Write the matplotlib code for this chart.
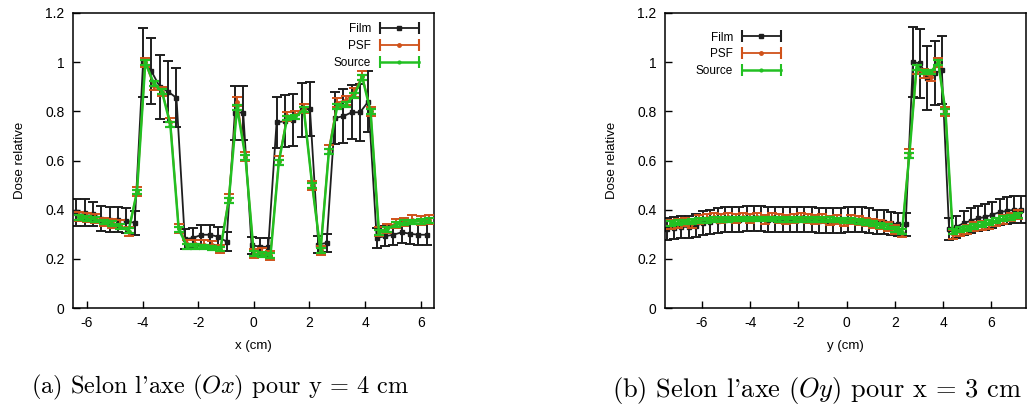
import matplotlib
matplotlib.use("Agg")
import matplotlib.pyplot as plt
from matplotlib.lines import Line2D
from matplotlib.legend_handler import HandlerBase

plt.rcParams["font.family"] = ["Liberation Sans", "DejaVu Sans"]
plt.rcParams["axes.unicode_minus"] = False
plt.rcParams["mathtext.fontset"] = "cm"

# ---- (a) profile along Ox, y = 4 cm ----
x_film_a = [-6.38, -6.08, -5.78, -5.48, -5.18, -4.88, -4.58, -4.28, -3.98, -3.68,
            -3.38, -3.08, -2.78, -2.48, -2.18, -1.88, -1.58, -1.28, -0.98, -0.68,
            -0.38, -0.08, 0.22, 0.52, 0.82, 1.12, 1.42, 1.72, 2.02, 2.32,
            2.62, 2.92, 3.22, 3.52, 3.82, 4.12, 4.42, 4.72, 5.02, 5.32,
            5.62, 5.92, 6.22]
film_a = [0.39, 0.387, 0.382, 0.363, 0.36, 0.36, 0.355, 0.346, 1.0, 0.963,
          0.90, 0.88, 0.855, 0.28, 0.285, 0.298, 0.298, 0.29, 0.27, 0.795,
          0.795, 0.255, 0.25, 0.248, 0.755, 0.76, 0.766, 0.807, 0.81, 0.258,
          0.265, 0.773, 0.78, 0.796, 0.796, 0.84, 0.285, 0.292, 0.298, 0.308,
          0.302, 0.298, 0.298]
film_a_err = [0.055, 0.055, 0.05, 0.05, 0.05, 0.05, 0.05, 0.048, 0.14, 0.135,
              0.13, 0.125, 0.12, 0.04, 0.04, 0.04, 0.04, 0.04, 0.04, 0.11,
              0.11, 0.035, 0.035, 0.035, 0.105, 0.105, 0.105, 0.11, 0.11, 0.035,
              0.037, 0.105, 0.11, 0.11, 0.115, 0.125, 0.04, 0.04, 0.04, 0.043,
              0.043, 0.043, 0.043]

x_sim_a = [-6.3, -6.0, -5.7, -5.4, -5.1, -4.8, -4.5, -4.2, -3.9, -3.6,
           -3.3, -3.0, -2.7, -2.4, -2.1, -1.8, -1.5, -1.2, -0.9, -0.6,
           -0.3, 0.0, 0.3, 0.6, 0.9, 1.2, 1.5, 1.8, 2.1, 2.4,
           2.7, 3.0, 3.3, 3.6, 3.9, 4.2, 4.5, 4.8, 5.1, 5.4,
           5.7, 6.0, 6.3]
psf_a = [0.372, 0.368, 0.365, 0.35, 0.345, 0.338, 0.31, 0.475, 1.0, 0.905,
         0.88, 0.755, 0.325, 0.26, 0.26, 0.258, 0.255, 0.24, 0.445, 0.84,
         0.615, 0.22, 0.225, 0.215, 0.6, 0.78, 0.785, 0.81, 0.5, 0.235,
         0.645, 0.835, 0.845, 0.875, 0.945, 0.8, 0.31, 0.325, 0.345, 0.35,
         0.36, 0.355, 0.36]
src_a = [0.369, 0.363, 0.36, 0.35, 0.342, 0.33, 0.315, 0.472, 1.0, 0.915,
         0.88, 0.746, 0.321, 0.251, 0.251, 0.248, 0.244, 0.24, 0.438, 0.816,
         0.614, 0.22, 0.217, 0.213, 0.593, 0.773, 0.777, 0.807, 0.5, 0.233,
         0.635, 0.82, 0.827, 0.864, 0.938, 0.80, 0.308, 0.321, 0.339, 0.346,
         0.35, 0.353, 0.355]

# ---- (b) profile along Oy, x = 3 cm ----
x_film_b = [-7.45, -7.15, -6.85, -6.55, -6.25, -5.95, -5.65, -5.35, -5.05, -4.75,
            -4.45, -4.15, -3.85, -3.55, -3.25, -2.95, -2.65, -2.35, -2.05, -1.75,
            -1.45, -1.15, -0.85, -0.55, -0.25, 0.05, 0.35, 0.65, 0.95, 1.25,
            1.55, 1.85, 2.15, 2.45, 2.75, 3.05, 3.35, 3.65, 3.95, 4.25,
            4.55, 4.85, 5.15, 5.45, 5.75, 6.05, 6.35, 6.65, 6.95, 7.25]
film_b = [0.32, 0.325, 0.33, 0.33, 0.335, 0.345, 0.35, 0.355, 0.36, 0.36,
          0.36, 0.365, 0.365, 0.365, 0.36, 0.36, 0.36, 0.36, 0.36, 0.36,
          0.36, 0.355, 0.355, 0.355, 0.355, 0.36, 0.36, 0.36, 0.355, 0.35,
          0.35, 0.345, 0.34, 0.34, 1.0, 0.995, 0.935, 0.955, 0.967, 0.32,
          0.33, 0.345, 0.355, 0.365, 0.37, 0.38, 0.39, 0.395, 0.40, 0.40]
film_b_err = [0.045, 0.045, 0.045, 0.045, 0.047, 0.05, 0.05, 0.05, 0.05, 0.05,
              0.05, 0.05, 0.05, 0.05, 0.05, 0.05, 0.05, 0.05, 0.05, 0.05,
              0.05, 0.05, 0.05, 0.05, 0.05, 0.05, 0.05, 0.05, 0.05, 0.048,
              0.048, 0.047, 0.047, 0.047, 0.142, 0.14, 0.13, 0.13, 0.138, 0.045,
              0.046, 0.048, 0.05, 0.05, 0.052, 0.053, 0.054, 0.055, 0.055, 0.055]

x_sim_b = [-7.3, -7.0, -6.7, -6.4, -6.1, -5.8, -5.5, -5.2, -4.9, -4.6,
           -4.3, -4.0, -3.7, -3.4, -3.1, -2.8, -2.5, -2.2, -1.9, -1.6,
           -1.3, -1.0, -0.7, -0.4, -0.1, 0.2, 0.5, 0.8, 1.1, 1.4,
           1.7, 2.0, 2.3, 2.6, 2.9, 3.2, 3.5, 3.8, 4.1, 4.4,
           4.7, 5.0, 5.3, 5.6, 5.9, 6.2, 6.5, 6.8, 7.1]
psf_b = [0.34, 0.345, 0.35, 0.345, 0.36, 0.365, 0.37, 0.365, 0.37, 0.365,
         0.37, 0.365, 0.37, 0.36, 0.37, 0.365, 0.36, 0.365, 0.37, 0.365,
         0.36, 0.365, 0.355, 0.36, 0.35, 0.36, 0.355, 0.35, 0.345, 0.34,
         0.33, 0.32, 0.305, 0.63, 0.97, 0.955, 0.94, 1.0, 0.80, 0.30,
         0.31, 0.32, 0.33, 0.335, 0.34, 0.35, 0.36, 0.37, 0.38]
src_b = [0.345, 0.347, 0.35, 0.352, 0.355, 0.357, 0.359, 0.36, 0.361, 0.362,
         0.362, 0.362, 0.362, 0.362, 0.362, 0.361, 0.361, 0.361, 0.36, 0.36,
         0.36, 0.36, 0.359, 0.358, 0.357, 0.355, 0.352, 0.348, 0.343, 0.337,
         0.33, 0.32, 0.31, 0.62, 0.98, 0.96, 0.96, 1.0, 0.80, 0.31,
         0.318, 0.325, 0.332, 0.34, 0.347, 0.355, 0.363, 0.37, 0.377]

psf_err = 0.018
src_err = 0.01

labels = ["Film", "PSF", "Source"]
colors = ["#1e1e1e", "#d0521a", "#22c022"]
yticks = [0, 0.2, 0.4, 0.6, 0.8, 1, 1.2]
ytick_labels = ["0", "0.2", "0.4", "0.6", "0.8", "1", "1.2"]
xticks = [-6, -4, -2, 0, 2, 4, 6]


class KeyHandler(HandlerBase):
    # gnuplot-like key sample: line with end caps and a marker in the middle
    def create_artists(self, legend, orig, xdescent, ydescent, width, height,
                       fontsize, trans):
        y = height / 2 - ydescent
        x0, x1 = -xdescent, -xdescent + width
        c = orig.get_color()
        line = Line2D([x0, x1], [y, y], color=c, lw=orig.get_linewidth())
        caps = Line2D([x0, x1], [y, y], ls="none", marker="|", ms=8, mew=1.5, color=c)
        mid = Line2D([(x0 + x1) / 2], [y], ls="none", marker=orig.get_marker(),
                     ms=orig.get_markersize(), color=c)
        for a in (line, caps, mid):
            a.set_transform(trans)
        return [line, caps, mid]


def draw(ax, xf, f, ferr, xs, p, s, xlim, xlabel, legend_anchor):
    h1 = ax.errorbar(xf, f, yerr=ferr, color=colors[0], lw=1.3, elinewidth=1.4,
                     capsize=3.5, capthick=1.4, marker="s", ms=3, zorder=2)
    h2 = ax.errorbar(xs, p, yerr=psf_err, color=colors[1], lw=1.3, elinewidth=1.4,
                     capsize=3.5, capthick=1.4, marker="o", ms=2.5, zorder=3)
    h3 = ax.errorbar(xs, s, yerr=src_err, color=colors[2], lw=1.8, elinewidth=1.4,
                     capsize=3.5, capthick=1.6, marker="o", ms=2, zorder=4)
    ax.set_xlim(xlim)
    ax.set_ylim(0, 1.2)
    ax.set_yticks(yticks)
    ax.set_yticklabels(ytick_labels)
    ax.set_xticks(xticks)
    ax.tick_params(direction="in", length=5, width=1, labelsize=10, pad=6,
                   top=False, right=False)
    for sp in ax.spines.values():
        sp.set_linewidth(1.1)
    ax.set_xlabel(xlabel, fontsize=9.5, labelpad=7)
    ax.set_ylabel("Dose relative", fontsize=9.5, labelpad=14)
    ax.legend([h1[0], h2[0], h3[0]], labels, handler_map={Line2D: KeyHandler()},
              loc="upper right", bbox_to_anchor=legend_anchor, frameon=False,
              markerfirst=False, fontsize=8.5, handlelength=3.3, handletextpad=0.75,
              labelspacing=0.4, borderpad=0, borderaxespad=0)


fig = plt.figure(figsize=(10.30, 4.09), dpi=100)
ax1 = fig.add_axes([73 / 1030, 101 / 409, 361 / 1030, 295 / 409])
ax2 = fig.add_axes([665 / 1030, 101 / 409, 361 / 1030, 295 / 409])

draw(ax1, x_film_a, film_a, film_a_err, x_sim_a, psf_a, src_a, (-6.5, 6.48),
     "x (cm)", (0.958, 0.965))
draw(ax2, x_film_b, film_b, film_b_err, x_sim_b, psf_b, src_b, (-7.53, 7.44),
     "y (cm)", (0.321, 0.937))

fig.text(220 / 1030, 1 - 387 / 409, r"(a) Selon l'axe $(Ox)$ pour y = 4 cm",
         family="cmr10", fontsize=17.5, ha="center", va="center")
fig.text(817 / 1030, 1 - 390 / 409, r"(b) Selon l'axe $(Oy)$ pour x = 3 cm",
         family="cmr10", fontsize=19, ha="center", va="center")

fig.savefig("out.png", dpi=100)
